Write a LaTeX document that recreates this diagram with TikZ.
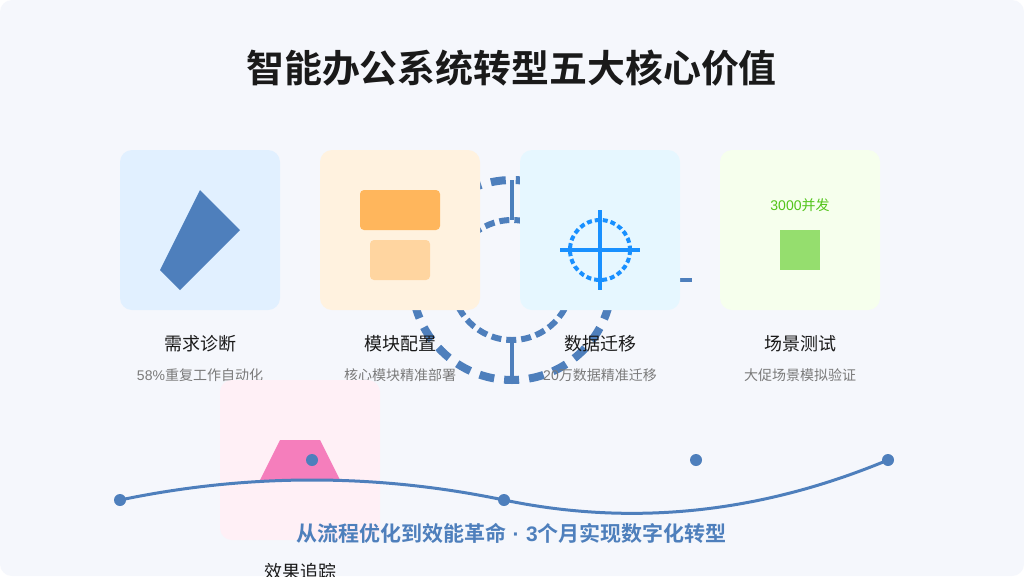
\documentclass[tikz,border=0pt]{standalone}
\usepackage{fontspec}
\setmainfont{Noto Sans CJK SC}[BoldFont={Noto Sans CJK SC Bold}]
\newfontfamily\lat{Liberation Sans}
\definecolor{pagebg}{HTML}{F5F7FC}
\definecolor{steel}{HTML}{4E7FBC}
\definecolor{ink}{HTML}{1A1A1A}
\definecolor{subink}{HTML}{7A7A7A}
\definecolor{azure}{HTML}{1890FF}
\definecolor{cardblue}{HTML}{E1F0FF}
\definecolor{cardorange}{HTML}{FFF2DF}
\definecolor{cardcyan}{HTML}{E6F7FF}
\definecolor{cardgreen}{HTML}{F6FFED}
\definecolor{cardpink}{HTML}{FFF0F6}
\definecolor{orangeA}{HTML}{FFB65C}
\definecolor{orangeB}{HTML}{FFD5A0}
\definecolor{greenT}{HTML}{52C41A}
\definecolor{greenS}{HTML}{95DE6E}
\definecolor{pinkT}{HTML}{F57EBC}
\tikzset{
  card/.style={rectangle,rounded corners=12pt,minimum width=160pt,minimum height=160pt,inner sep=0pt,fill=#1},
  lab/.style={font=\fontsize{18}{18}\selectfont,text=ink,inner sep=0pt,anchor=center},
  sublab/.style={font=\fontsize{14}{14}\selectfont,text=subink,inner sep=0pt,anchor=center},
  dot/.style={circle,fill=steel,minimum size=12pt,inner sep=0pt},
  block/.style={rectangle,rounded corners=4pt,inner sep=0pt,fill=#1},
  gearline/.style={draw=steel,line width=4pt},
  xhair/.style={draw=azure,line width=4pt}
}
\begin{document}
\begin{tikzpicture}[x=1pt,y=-1pt]
\useasboundingbox (0,0) rectangle (1024,576);
\fill[white] (0,0) rectangle (1024,576);
\fill[pagebg,rounded corners=12pt] (0,0) rectangle (1024,576);
\node[font=\fontsize{37.9}{38}\selectfont\bfseries,text=ink,inner sep=0pt] (title) at (511.5,68) {智能办公系统转型五大核心价值};
% gear
\draw[steel,line width=8pt,dash pattern=on 15pt off 10pt] (612,280) arc[start angle=0,end angle=-360,radius=100pt];
\draw[steel,line width=6pt,dash pattern=on 10pt off 5pt] (572,280) arc[start angle=0,end angle=-360,radius=60pt];
\draw[gearline] (512,180) -- (512,220);
\draw[gearline] (512,340) -- (512,380);
\draw[gearline] (652,280) -- (692,280);
% cards
\node[card=cardblue] (c1) at (200,230) {};
\node[card=cardorange] (c2) at (400,230) {};
\node[card=cardcyan] (c3) at (600,230) {};
\node[card=cardgreen] (c4) at (800,230) {};
% card 1 glyph
\fill[steel] (200,190) -- (240,230) -- (180,290) -- (160,270) -- cycle;
% card 2 glyph
\node[block=orangeA,minimum width=80pt,minimum height=40pt] (o1) at (400,210) {};
\node[block=orangeB,minimum width=60pt,minimum height=40pt] (o2) at (400,260) {};
% card 3 glyph
\draw[azure,line width=4pt,dash pattern=on 5pt off 3pt] (630,250) arc[start angle=0,end angle=-360,radius=30pt];
\draw[xhair] (560,250) -- (640,250);
\draw[xhair] (600,210) -- (600,290);
% card 4 glyph
\node[font=\fontsize{14}{14}\selectfont,text=greenT,inner sep=0pt] (t4) at (800,205) {{\lat 3000}并发};
\node[rectangle,fill=greenS,minimum size=40pt,inner sep=0pt] (g4) at (800,250) {};
% labels
\node[lab] (l1) at (200,344) {需求诊断};
\node[lab] (l2) at (400,344) {模块配置};
\node[lab] (l3) at (600,344) {数据迁移};
\node[lab] (l4) at (800,344) {场景测试};
\node[sublab] (s1) at (200,375) {{\lat 58\%}重复工作自动化};
\node[sublab] (s2) at (400,375) {核心模块精准部署};
\node[sublab] (s3) at (600,375) {{\lat 20}万数据精准迁移};
\node[sublab] (s4) at (800,375) {大促场景模拟验证};
% pink card
\node[card=cardpink] (c5) at (300,460) {};
\fill[pinkT] (280,440) -- (320,440) -- (340,480) -- (260,480) -- cycle;
\node[lab] (l5) at (300,572) {效果追踪};
% timeline
\node[dot] (d1) at (120,500) {};
\node[dot] (d2) at (312,460) {};
\node[dot] (d3) at (504,500) {};
\node[dot] (d4) at (696,460) {};
\node[dot] (d5) at (888,460) {};
\draw[steel,line width=3pt] (d1.center) .. controls (248,473.33) and (376,473.33) .. (d3.center)
  .. controls (632,526.67) and (760,513.33) .. (d5.center);
\node[font=\fontsize{21}{21}\selectfont\bfseries,text=steel,inner sep=0pt] (foot) at (511.5,533) {从流程优化到效能革命\hspace{6.5pt}{\lat ·}\hspace{6.5pt}{\lat 3}个月实现数字化转型};
\end{tikzpicture}
\end{document}
